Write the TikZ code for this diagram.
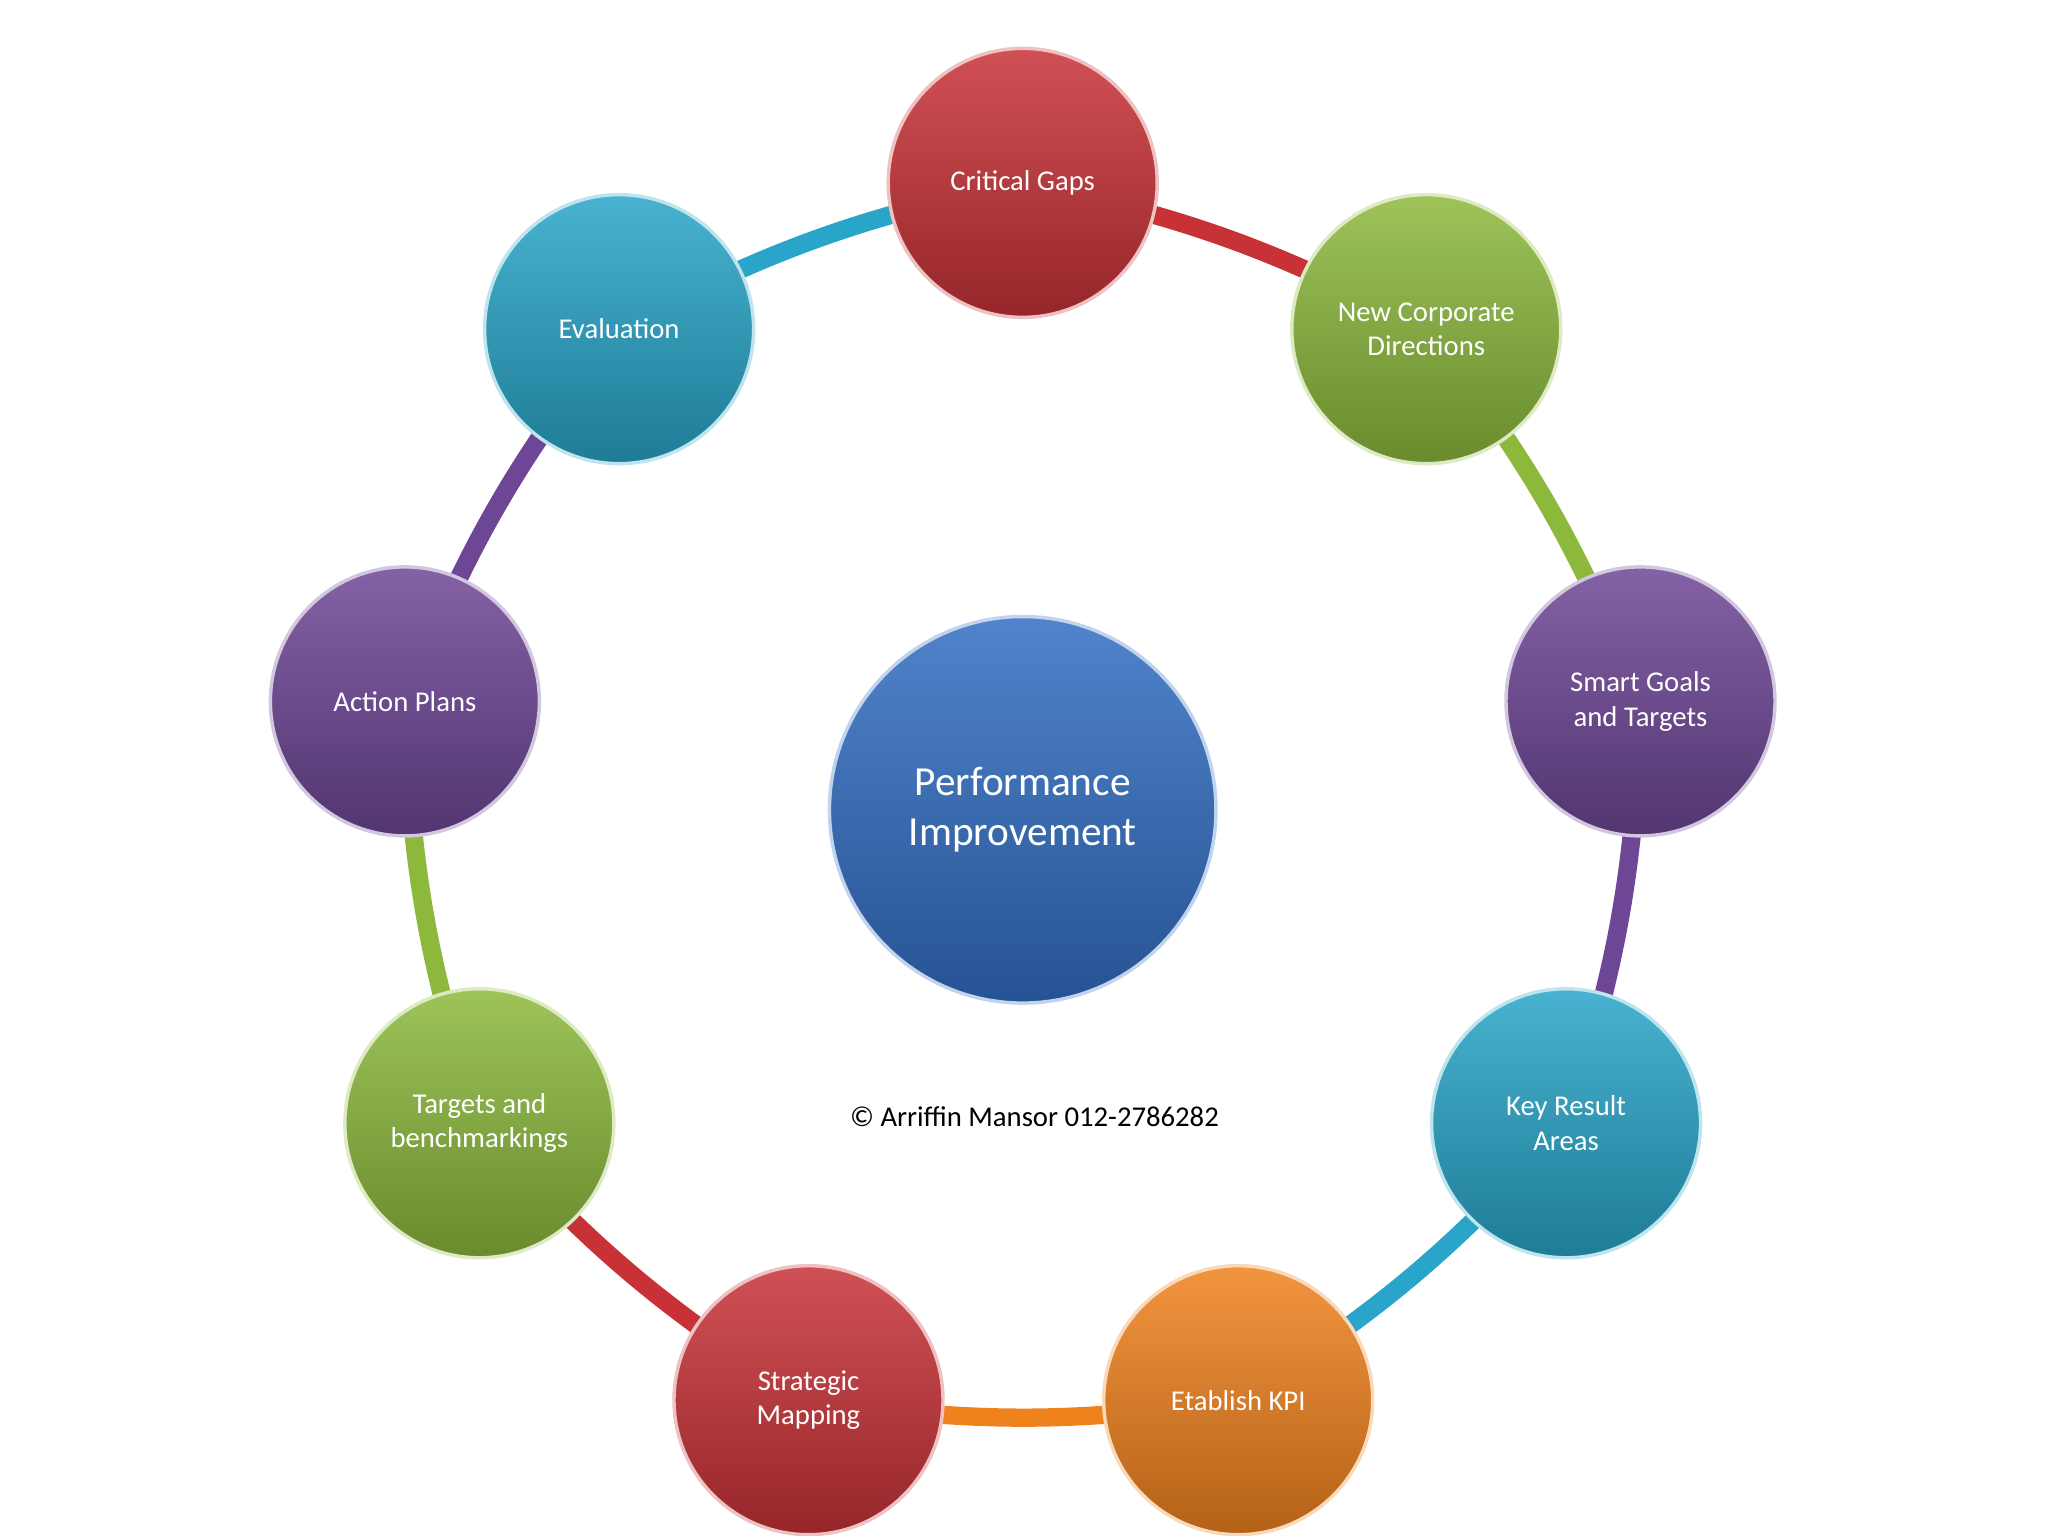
\documentclass[tikz,border=0pt]{standalone}
\usepackage{fontspec}
\setmainfont{Carlito}
\usetikzlibrary{backgrounds}
\definecolor{cred}{RGB}{200,50,55}
\definecolor{cgreen}{RGB}{140,185,60}
\definecolor{cpurple}{RGB}{110,70,150}
\definecolor{ccyan}{RGB}{40,165,200}
\definecolor{corange}{RGB}{240,130,30}
\definecolor{cblue}{RGB}{50,110,195}
\begin{document}
\begin{tikzpicture}[
    x=0.02cm, y=-0.02cm,
    % --- styles ---
    ball/.style={
            circle,
            draw=#1!30!white,
            line width=1.5pt,
            top color=#1!85!white,
            bottom color=#1!75!black,
            minimum size=4.12cm,
            inner sep=0pt,
            align=center,
            text=white,
            font=\fontsize{12.5}{15}\selectfont
        },
    ring/.style={
            line width=0.28cm,
            draw=#1,
            bend left=8
        }
    ]
    \useasboundingbox (0,0) rectangle (1568,1176);

    % --- outer ring nodes ---
    \node[ball=cred] (gaps) at (783,140) {Critical Gaps};
    \node[ball=cgreen] (corp) at (1092,252) {New Corporate\\Directions};
    \node[ball=cpurple] (smart) at (1256,537) {Smart Goals\\and Targets};
    \node[ball=ccyan] (kra) at (1199,860) {Key Result\\Areas};
    \node[ball=corange] (kpi) at (948,1072) {Etablish KPI};
    \node[ball=cred] (map) at (619,1072) {Strategic\\Mapping};
    \node[ball=cgreen] (bench) at (367,860) {Targets and\\benchmarkings};
    \node[ball=cpurple] (plans) at (310,537) {Action Plans};
    \node[ball=ccyan] (eval) at (474,252) {Evaluation};

    % --- centre ---
    \node[ball=cblue, minimum size=5.92cm, font=\fontsize{18}{22}\selectfont] (perf) at (783,620) {Performance\\Improvement};

    \node[font=\fontsize{12.5}{15}\selectfont] (copy) at (792,855) {\textcopyright{} Arriffin Mansor 012-2786282};

    % --- ring links ---
    \begin{scope}[on background layer]
        \draw[ring=cred] (gaps.center) to (corp.center);
        \draw[ring=cgreen] (corp.center) to (smart.center);
        \draw[ring=cpurple] (smart.center) to (kra.center);
        \draw[ring=ccyan] (kra.center) to (kpi.center);
        \draw[ring=corange] (kpi.center) to (map.center);
        \draw[ring=cred] (map.center) to (bench.center);
        \draw[ring=cgreen] (bench.center) to (plans.center);
        \draw[ring=cpurple] (plans.center) to (eval.center);
        \draw[ring=ccyan] (eval.center) to (gaps.center);
    \end{scope}

\end{tikzpicture}
\end{document}
